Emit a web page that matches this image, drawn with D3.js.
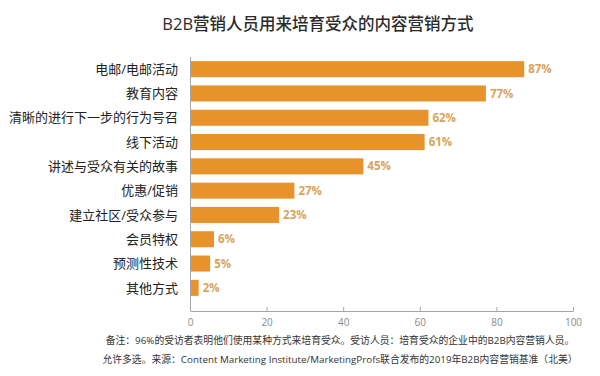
<!DOCTYPE html>
<html lang="zh">
<head>
<meta charset="UTF-8">
<script src="https://d3js.org/d3.v7.min.js"></script>
<title>B2B营销人员用来培育受众的内容营销方式</title>
<style>
  body { margin:0; background:#fff; }
  text { font-family: "Open Sans", "Noto Sans CJK SC", sans-serif; }
  .axis path, .axis line { stroke:#a6a6a6; }
  .axis text { fill:#8a8a8a; font-size:10px; }
</style>
</head>
<body>
<script>
  var categories = ["电邮/电邮活动", "教育内容", "清晰的进行下一步的行为号召", "线下活动",
                    "讲述与受众有关的故事", "优惠/促销", "建立社区/受众参与", "会员特权",
                    "预测性技术", "其他方式"];
  var values = [87, 77, 62, 61, 45, 27, 23, 6, 5, 2];
  var xTicks = [0, 20, 40, 60, 80, 100];
  var title = "B2B营销人员用来培育受众的内容营销方式";
  var notes = ["备注：96%的受访者表明他们使用某种方式来培育受众。受访人员：培育受众的企业中的B2B内容营销人员。",
               "允许多选。来源：Content Marketing Institute/MarketingProfs联合发布的2019年B2B内容营销基准（北美）"];

  var width = 600, height = 376;
  var mLeft = 190, mRight = 573, mTop = 57, mBottom = 311;

  var svg = d3.select("body").append("svg").attr("width", width).attr("height", height);

  var x = d3.scaleLinear().domain([0, 100]).range([mLeft, mRight]);
  var y = d3.scaleBand().domain(categories).range([mTop, 300]).paddingInner(0.34).paddingOuter(0.17);

  svg.append("text").attr("x", 318).attr("y", 30).attr("text-anchor", "middle")
     .style("font-size", "16.5px").style("font-weight", "500").style("fill", "#2b2b2b").text(title);

  // x axis, ticks point up
  var xaxis = d3.axisBottom(x).tickValues(xTicks).tickSizeInner(-4).tickSizeOuter(0).tickPadding(8);
  var gx = svg.append("g").attr("class", "axis").attr("transform", "translate(0," + mBottom + ")").call(xaxis);
  gx.selectAll(".tick").filter(function(d){ return d === 0; }).select("line").remove();

  // y axis line
  svg.append("line").attr("x1", mLeft + 0.5).attr("x2", mLeft + 0.5).attr("y1", mTop).attr("y2", mBottom)
     .style("stroke", "#a6a6a6");

  svg.selectAll(".bar").data(values).enter().append("rect").attr("class", "bar")
     .attr("x", mLeft + 1)
     .attr("y", function(d, i){ return y(categories[i]); })
     .attr("width", function(d){ return x(d) - mLeft; })
     .attr("height", y.bandwidth())
     .style("fill", "#e8922b");

  svg.selectAll(".val").data(values).enter().append("text").attr("class", "val")
     .attr("x", function(d){ return x(d) + 5; })
     .attr("y", function(d, i){ return y(categories[i]) + y.bandwidth() / 2; })
     .attr("dy", "0.36em")
     .style("font-size", "11.5px").style("font-weight", "bold").style("fill", "#d9a35c")
     .text(function(d){ return d + "%"; });

  svg.selectAll(".cat").data(categories).enter().append("text").attr("class", "cat")
     .attr("x", 178)
     .attr("y", function(d){ return y(d) + y.bandwidth() / 2; })
     .attr("dy", "0.36em").attr("text-anchor", "end")
     .style("font-size", "13px").style("fill", "#222")
     .text(function(d){ return d; });

  svg.selectAll(".note").data(notes).enter().append("text").attr("class", "note")
     .attr("x", 340)
     .attr("y", function(d, i){ return 344 + i * 19; })
     .attr("text-anchor", "middle")
     .style("font-size", "9.8px").style("fill", "#333")
     .text(function(d){ return d; });
</script>
</body>
</html>
